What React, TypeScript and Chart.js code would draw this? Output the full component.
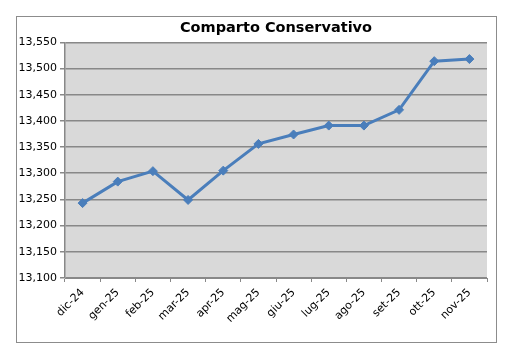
import React, { useEffect, useRef } from "react";
import { Chart, registerables } from "chart.js";

Chart.register(...registerables);

const categories = ["dic-24", "gen-25", "feb-25", "mar-25", "apr-25", "mag-25", "giu-25", "lug-25", "ago-25", "set-25", "ott-25", "nov-25"];
const values = [13243, 13284, 13304, 13249, 13305, 13356, 13374, 13391, 13391, 13421, 13514, 13518];
const yMin = 13100;
const yMax = 13550;
const yStep = 50;
const title = "Comparto Conservativo";

const FONT = "'DejaVu Sans', Verdana, sans-serif";

const plotBg = {
  id: "plotBg",
  beforeDraw(chart: any) {
    const { ctx, chartArea } = chart;
    ctx.save();
    ctx.fillStyle = "#d9d9d9";
    ctx.fillRect(chartArea.left, chartArea.top, chartArea.right - chartArea.left, chartArea.bottom - chartArea.top);
    ctx.restore();
  },
};

export default function App() {
  const ref = useRef<HTMLCanvasElement | null>(null);
  useEffect(() => {
    if (!ref.current) return;
    const chart = new Chart(ref.current, {
      type: "line",
      data: {
        labels: categories,
        datasets: [
          {
            data: values,
            borderColor: "#4a7ebb",
            backgroundColor: "#4a7ebb",
            borderWidth: 3,
            pointStyle: "rectRot",
            pointRadius: 4.5,
            pointHoverRadius: 4.5,
            pointBorderWidth: 1,
            tension: 0,
          },
        ],
      },
      options: {
        animation: false,
        responsive: false,
        maintainAspectRatio: false,
        layout: { padding: { left: 0, right: 9, top: 0, bottom: 0 } },
        plugins: {
          legend: { display: false },
          tooltip: { enabled: false },
          title: {
            display: true,
            text: title,
            fullSize: false,
            color: "#000",
            font: { family: FONT, size: 14.5, weight: "bold" },
            padding: { top: 2.6, bottom: 5.3 },
          },
        },
        scales: {
          x: {
            offset: true,
            grid: { offset: true, drawOnChartArea: false, drawTicks: true, tickLength: 4, color: "#888" },
            border: { display: true, color: "#888", width: 1 },
            ticks: {
              color: "#000",
              font: { family: FONT, size: 11 },
              minRotation: 45,
              maxRotation: 45,
              padding: 4,
              autoSkip: false,
            },
            afterFit(scale: any) {
              scale.height = 64;
            },
          },
          y: {
            min: yMin,
            max: yMax,
            grid: { color: "#888", lineWidth: 1.5, tickLength: 5, drawTicks: true },
            border: { display: true, color: "#888", width: 1.5 },
            ticks: {
              stepSize: yStep,
              color: "#000",
              font: { family: FONT, size: 11 },
              padding: 3,
              callback: (v: any) => Number(v).toLocaleString("en-US"),
            },
            afterFit(scale: any) {
              scale.width = 48;
            },
          },
        },
      },
      plugins: [plotBg],
    });
    return () => chart.destroy();
  }, []);
  return (
    <div style={{ position: "fixed", left: 0, top: 0, width: 516, height: 353, background: "#fff" }}>
      <div
        style={{
          position: "absolute",
          left: 16,
          top: 16,
          width: 479,
          height: 325,
          border: "1px solid #8c8c8c",
        }}
      >
        <canvas ref={ref} width={479} height={325} style={{ display: "block" }} />
      </div>
    </div>
  );
}
